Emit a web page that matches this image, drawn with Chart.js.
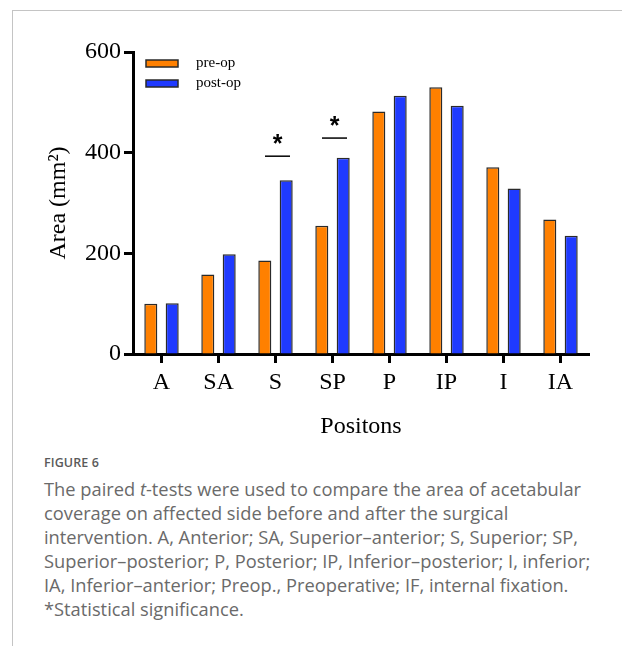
<!DOCTYPE html>
<html lang="en">
<head>
    <meta charset="UTF-8">
    <title>Figure 6</title>
    <script src="https://cdn.jsdelivr.net/npm/chart.js@4.4.1/dist/chart.umd.min.js"></script>
    <style>
        body { margin: 0; background: #fff; width: 622px; height: 646px; position: relative; overflow: hidden; }
        #frame { position: absolute; left: 12px; top: 10px; right: -5px; bottom: -5px;
                 border-left: 1px solid #c4c4c4; border-top: 1px solid #c4c4c4; }
        #myChart { position: absolute; left: 0; top: 0; }
        #caption { position: absolute; left: 44px; top: 452px; font-family: "Open Sans", Lato, sans-serif;
                   color: #6a6a6a; white-space: nowrap; }
        #caption .fig { font-size: 12.5px; font-weight: 600; color: #5a5a5a; letter-spacing: 0.1px; height: 22px; line-height: 22px; }
        #caption .txt { font-size: 18.3px; line-height: 24px; margin-top: 3px; }
    </style>
</head>
<body>
<div id="frame"></div>
<canvas id="myChart" width="622" height="445"></canvas>
<div id="caption">
    <div class="fig">FIGURE 6</div>
    <div class="txt">The paired <i>t</i>-tests were used to compare the area of acetabular<br>
        coverage on affected side before and after the surgical<br>
        intervention. A, Anterior; SA, Superior&#8211;anterior; S, Superior; SP,<br>
        Superior&#8211;posterior; P, Posterior; IP, Inferior&#8211;posterior; I, inferior;<br>
        IA, Inferior&#8211;anterior; Preop., Preoperative; IF, internal fixation.<br>
        *Statistical significance.</div>
</div>
<script>
    var positions = ['A', 'SA', 'S', 'SP', 'P', 'IP', 'I', 'IA'];
    var preOp = [100, 158, 186, 255, 482, 530, 371, 267];
    var postOp = [101, 198, 345, 390, 513, 493, 329, 235];
    var yTicks = [0, 200, 400, 600];

    // significance bars: category and the value where the line sits
    var sigPositions = ['S', 'SP'];
    var sigLevels = [393, 429];

    var serif = "'Liberation Serif', 'Times New Roman', serif";

    var legendInside = {
        id: 'legendInside',
        afterDraw: function (chart) {
            var ctx = chart.ctx;
            var area = chart.chartArea;
            ctx.save();
            chart.data.datasets.forEach(function (ds, i) {
                var y = area.top + 8 + i * 20;
                ctx.fillStyle = ds.backgroundColor;
                ctx.fillRect(area.left + 13, y, 32, 7);
                ctx.strokeStyle = '#2a2a2a';
                ctx.lineWidth = 1.5;
                ctx.strokeRect(area.left + 13, y, 32, 7);
                ctx.fillStyle = '#000';
                ctx.font = '15px ' + serif;
                ctx.textBaseline = 'middle';
                ctx.textAlign = 'left';
                ctx.fillText(ds.label, area.left + 63, y + 3);
            });
            ctx.restore();
        }
    };

    var sigMarks = {
        id: 'sigMarks',
        afterDraw: function (chart) {
            var ctx = chart.ctx;
            var xs = chart.scales.x, ys = chart.scales.y;
            ctx.save();
            sigPositions.forEach(function (p, i) {
                var cx = xs.getPixelForValue(positions.indexOf(p)) + 2;
                var ly = ys.getPixelForValue(sigLevels[i]);
                ctx.strokeStyle = '#000';
                ctx.lineWidth = 1.5;
                ctx.beginPath();
                ctx.moveTo(cx - 12.5, ly);
                ctx.lineTo(cx + 12.5, ly);
                ctx.stroke();
                ctx.fillStyle = '#000';
                ctx.font = 'bold 25px "Liberation Sans", Arial, sans-serif';
                ctx.textAlign = 'center';
                ctx.textBaseline = 'middle';
                ctx.fillText('*', cx, ly - 11);
            });
            ctx.restore();
        }
    };

    var ctx = document.querySelector('#myChart').getContext('2d');
    new Chart(ctx, {
        type: 'bar',
        data: {
            labels: positions,
            datasets: [{
                label: 'pre-op',
                backgroundColor: '#FF8000',
                borderColor: '#2a2a2a',
                borderWidth: 1.5,
                data: preOp
            }, {
                label: 'post-op',
                backgroundColor: '#1F3AFF',
                borderColor: '#2a2a2a',
                borderWidth: 1.5,
                data: postOp
            }]
        },
        options: {
            responsive: false,
            animation: false,
            categoryPercentage: 0.75,
            barPercentage: 0.61,
            layout: { padding: { left: 0, top: 52, right: 33, bottom: 0 } },
            plugins: { legend: { display: false }, tooltip: { enabled: false } },
            scales: {
                x: {
                    afterFit: function (s) { s.height = 91; },
                    grid: { display: true, drawOnChartArea: false, drawTicks: true, tickLength: 9,
                            tickWidth: 3, tickColor: '#000', offset: false },
                    border: { color: '#000', width: 3 },
                    ticks: { color: '#000', font: { family: serif, size: 24 }, padding: 5, maxRotation: 0 },
                    title: { display: true, text: 'Positons', color: '#000',
                             font: { family: serif, size: 24 }, padding: { top: 0, bottom: 4 } }
                },
                y: {
                    min: 0, max: 600,
                    afterFit: function (s) { s.width = 133; },
                    afterBuildTicks: function (s) { s.ticks = yTicks.map(function (v) { return { value: v }; }); },
                    grid: { display: true, drawOnChartArea: false, drawTicks: true, tickLength: 9,
                            tickWidth: 3, tickColor: '#000' },
                    border: { color: '#000', width: 3 },
                    ticks: { color: '#000', font: { family: serif, size: 24 }, padding: 3 },
                    title: { display: true, text: 'Area (mm\u00B2)', color: '#000',
                             font: { family: serif, size: 24 }, padding: { top: 44, bottom: 0 } }
                }
            }
        },
        plugins: [legendInside, sigMarks]
    });
</script>
</body>
</html>
